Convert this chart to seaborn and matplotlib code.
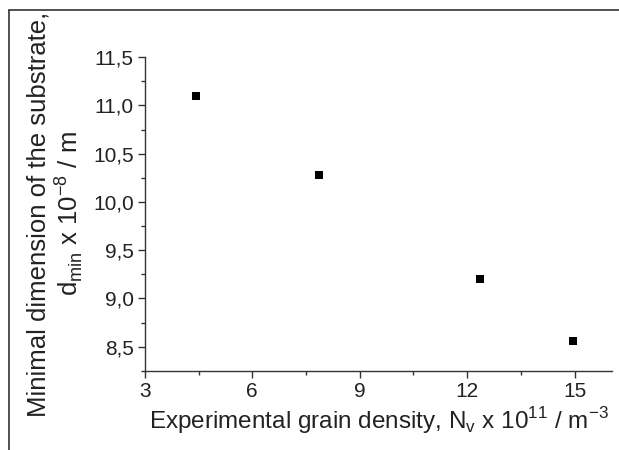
import matplotlib
matplotlib.use("Agg")
import matplotlib.pyplot as plt
import matplotlib.ticker as mticker
from matplotlib.lines import Line2D
import seaborn as sns
import pandas as pd

grain_density = [4.42, 7.87, 12.35, 14.95]
d_min = [11.10, 10.28, 9.20, 8.56]

x_ticks = [3, 6, 9, 12, 15]
y_ticks = [8.5, 9.0, 9.5, 10.0, 10.5, 11.0, 11.5]

sns.set_theme(style="ticks")
plt.rcParams['font.family'] = ['Liberation Sans', 'DejaVu Sans']
plt.rcParams['mathtext.fontset'] = 'custom'
plt.rcParams['mathtext.rm'] = 'Liberation Sans'

df = pd.DataFrame({"x": grain_density, "y": d_min})

fig = plt.figure(figsize=(6.19, 4.5), dpi=100)
ax = fig.add_axes([0.234, 0.176, 0.755, 0.697])
sns.scatterplot(data=df, x="x", y="y", marker="s", color="black", s=40,
                edgecolor="black", linewidth=0, ax=ax)

ax.set_xlim(3, 16.05)
ax.set_ylim(8.25, 11.5)
ax.set_xticks(x_ticks)
ax.set_yticks(y_ticks)
ax.xaxis.set_minor_locator(mticker.MultipleLocator(1.5))
ax.yaxis.set_minor_locator(mticker.MultipleLocator(0.25))
ax.yaxis.set_major_formatter(mticker.FuncFormatter(lambda v, p: f"{v:.1f}".replace(".", ",")))
ax.xaxis.set_major_formatter(mticker.FuncFormatter(lambda v, p: f"{v:.0f}"))

for s in ["top", "right"]:
    ax.spines[s].set_visible(False)
for s in ["left", "bottom"]:
    ax.spines[s].set_color("#333333")
    ax.spines[s].set_linewidth(1.0)

ax.tick_params(axis="both", which="major", direction="out", length=5, width=1,
               color="#333333", labelsize=15, labelcolor="#222222", pad=3)
ax.tick_params(axis="both", which="minor", direction="out", length=3, width=1,
               color="#333333")

ax.set_xlabel(r"Experimental grain density, N$_\mathregular{v}$ x 10$^\mathregular{11}$ / m$^\mathregular{-3}$",
              fontsize=17.5, color="#222222", labelpad=3)
ax.set_ylabel("Minimal dimension of the substrate,\n" +
              r"d$_\mathregular{min}$ x 10$^\mathregular{-8}$ / m",
              fontsize=18.5, color="#222222", labelpad=6, linespacing=1.05)

# figure frame (top and left edges)
fig.add_artist(Line2D([9/619, 1.0], [1 - 10/450, 1 - 10/450], transform=fig.transFigure,
                      color="#333333", linewidth=1.2))
fig.add_artist(Line2D([9/619, 9/619], [0.0, 1 - 10/450], transform=fig.transFigure,
                      color="#333333", linewidth=1.2))

fig.savefig("out.png", dpi=100)
